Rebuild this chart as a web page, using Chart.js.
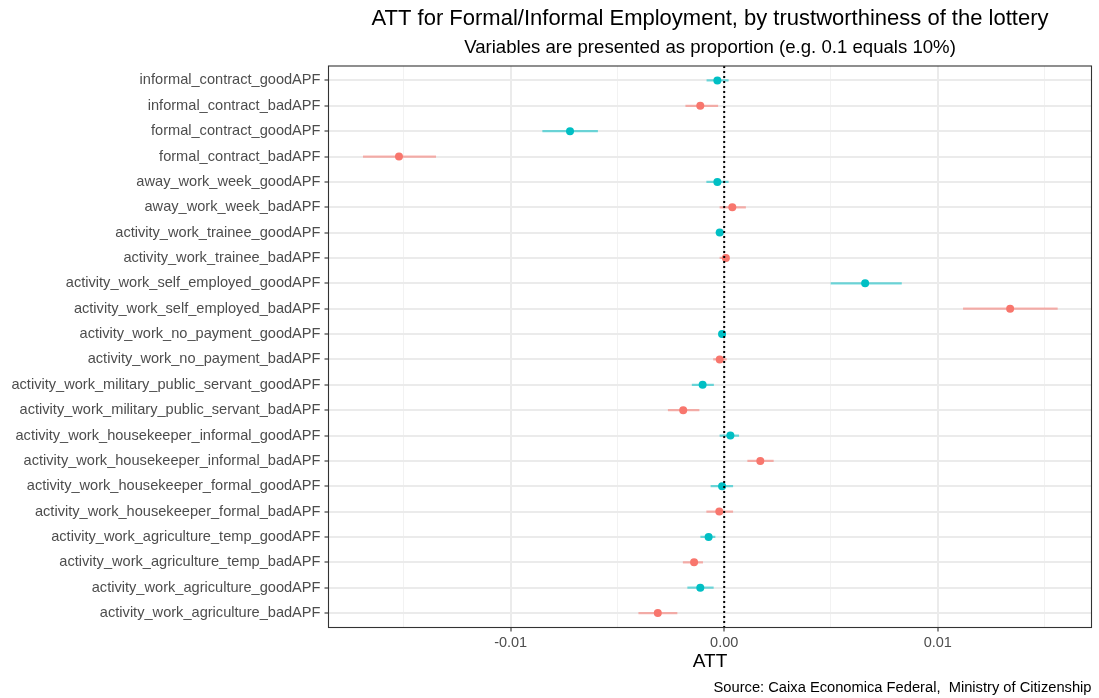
<!DOCTYPE html>
<html>
<head>
<meta charset="utf-8">
<title>ATT for Formal/Informal Employment</title>
<script src="https://cdn.jsdelivr.net/npm/chart.js@4/dist/chart.umd.min.js"></script>
<style>
  html, body { margin: 0; padding: 0; background: #ffffff; }
  #wrap { position: relative; width: 1099px; height: 698px; }
  canvas { display: block; }
</style>
</head>
<body>
<div id="wrap"><canvas id="chart" width="1099" height="698"></canvas></div>
<script>
// Outcome variables, listed top to bottom
const variables = [
  'informal_contract_goodAPF',
  'informal_contract_badAPF',
  'formal_contract_goodAPF',
  'formal_contract_badAPF',
  'away_work_week_goodAPF',
  'away_work_week_badAPF',
  'activity_work_trainee_goodAPF',
  'activity_work_trainee_badAPF',
  'activity_work_self_employed_goodAPF',
  'activity_work_self_employed_badAPF',
  'activity_work_no_payment_goodAPF',
  'activity_work_no_payment_badAPF',
  'activity_work_military_public_servant_goodAPF',
  'activity_work_military_public_servant_badAPF',
  'activity_work_housekeeper_informal_goodAPF',
  'activity_work_housekeeper_informal_badAPF',
  'activity_work_housekeeper_formal_goodAPF',
  'activity_work_housekeeper_formal_badAPF',
  'activity_work_agriculture_temp_goodAPF',
  'activity_work_agriculture_temp_badAPF',
  'activity_work_agriculture_goodAPF',
  'activity_work_agriculture_badAPF'
];

// Lottery trustworthiness group of each variable
const groups = [
  'good', 'bad', 'good', 'bad', 'good', 'bad', 'good', 'bad', 'good', 'bad', 'good',
  'bad', 'good', 'bad', 'good', 'bad', 'good', 'bad', 'good', 'bad', 'good', 'bad'
];

// Point estimates of the ATT
const att = [
  -0.00032, -0.00112, -0.00722, -0.01523, -0.00032, 0.00038, -0.00021, 0.00008,
  0.00660, 0.01339, -0.00010, -0.00021, -0.00101, -0.00192, 0.00029, 0.00169,
  -0.00010, -0.00023, -0.00073, -0.00141, -0.00112, -0.00311
];

// Confidence interval bounds
const ciLow = [
  -0.00081, -0.00180, -0.00850, -0.01690, -0.00082, -0.00020, -0.00038, -0.00020,
  0.00500, 0.01120, -0.00025, -0.00050, -0.00150, -0.00262, -0.00020, 0.00110,
  -0.00062, -0.00082, -0.00110, -0.00192, -0.00171, -0.00400
];
const ciHigh = [
  0.00019, -0.00030, -0.00593, -0.01351, 0.00019, 0.00100, -0.00004, 0.00020,
  0.00830, 0.01560, 0.00005, 0.00010, -0.00050, -0.00118, 0.00068, 0.00230,
  0.00040, 0.00040, -0.00043, -0.00101, -0.00051, -0.00221
];

// x axis ticks: labelled majors and unlabelled minors
const majorTicks = [-0.01, 0, 0.01];
const minorTicks = [-0.015, -0.005, 0.005, 0.015];
const tickLabels = ['-0.01', '0.00', '0.01'];
const zeroLine = 0;

const titleText = 'ATT for Formal/Informal Employment, by trustworthiness of the lottery';
const subtitleText = 'Variables are presented as proportion (e.g. 0.1 equals 10%)';
const captionText = 'Source: Caixa Economica Federal,  Ministry of Citizenship';
const axisTitle = 'ATT';

const pointColors = { good: '#00BFC4', bad: '#F8766D' };
const barColors = { good: 'rgba(0,191,196,0.55)', bad: 'rgba(248,118,109,0.55)' };

const FONT = '"Liberation Sans", Arial, Helvetica, sans-serif';
const GRID = '#EBEBEB';
const DARK = '#333333';

const pointData = att.map((v, i) => ({ x: v, y: i }));
const intervalData = ciLow.map((lo, i) => ({ x: [lo, ciHigh[i]], y: i }));

// Panel frame, dotted zero reference, titles and caption
const decorations = {
  id: 'decorations',
  afterDatasetsDraw(chart) {
    const { ctx, chartArea: a, scales } = chart;
    const x0 = scales.x.getPixelForValue(zeroLine);
    ctx.save();
    ctx.beginPath();
    ctx.rect(a.left, a.top, a.right - a.left, a.bottom - a.top);
    ctx.clip();
    ctx.strokeStyle = '#000000';
    ctx.lineWidth = 2;
    ctx.setLineDash([2, 3]);
    ctx.beginPath();
    ctx.moveTo(x0, a.top);
    ctx.lineTo(x0, a.bottom);
    ctx.stroke();
    ctx.restore();

    ctx.save();
    ctx.strokeStyle = DARK;
    ctx.lineWidth = 1.1;
    ctx.strokeRect(a.left, a.top, a.right - a.left, a.bottom - a.top);
    ctx.restore();
  },
  afterDraw(chart) {
    const { ctx, chartArea: a } = chart;
    const cx = (a.left + a.right) / 2;
    ctx.save();
    ctx.fillStyle = '#000000';
    ctx.textAlign = 'center';
    ctx.textBaseline = 'middle';
    ctx.font = '22px ' + FONT;
    ctx.fillText(titleText, cx, 19);
    ctx.font = '18.6px ' + FONT;
    ctx.fillText(subtitleText, cx, 47.5);
    ctx.textAlign = 'right';
    ctx.font = '14.7px ' + FONT;
    ctx.fillText(captionText, a.right, 688);
    ctx.restore();
  }
};

new Chart(document.getElementById('chart'), {
  type: 'bar',
  data: {
    datasets: [
      {
        type: 'line',
        data: pointData,
        showLine: false,
        pointRadius: 4,
        pointHoverRadius: 4,
        pointBorderWidth: 0,
        pointBackgroundColor: groups.map(g => pointColors[g]),
        pointBorderColor: groups.map(g => pointColors[g]),
        order: 0
      },
      {
        type: 'bar',
        data: intervalData,
        barThickness: 1.6,
        borderWidth: 0,
        backgroundColor: groups.map(g => barColors[g]),
        order: 1
      }
    ]
  },
  options: {
    indexAxis: 'y',
    responsive: false,
    animation: false,
    events: [],
    layout: { padding: { top: 66, right: 7.5, bottom: 25, left: 0 } },
    plugins: {
      legend: { display: false },
      tooltip: { enabled: false },
      title: { display: false }
    },
    scales: {
      x: {
        type: 'linear',
        min: -0.01853,
        max: 0.01720,
        afterFit(scale) { scale.height = 45.5; },
        afterBuildTicks(scale) {
          scale.ticks = minorTicks.concat(majorTicks).sort((a, b) => a - b).map(v => ({ value: v }));
        },
        grid: {
          color: ctx => majorTicks.includes(ctx.tick && ctx.tick.value) ? GRID : '#F2F2F2',
          lineWidth: ctx => majorTicks.includes(ctx.tick && ctx.tick.value) ? 2 : 1,
          tickColor: ctx => majorTicks.includes(ctx.tick && ctx.tick.value) ? DARK : 'rgba(0,0,0,0)',
          tickLength: 4,
          tickWidth: 1.1
        },
        border: { display: false },
        ticks: {
          autoSkip: false,
          maxRotation: 0,
          padding: 3,
          color: '#4D4D4D',
          font: { family: FONT, size: 14.5 },
          callback(value) {
            const k = majorTicks.indexOf(value);
            return k >= 0 ? tickLabels[k] : '';
          }
        },
        title: {
          display: true,
          text: axisTitle,
          color: '#000000',
          font: { family: FONT, size: 19 },
          padding: { top: 0, bottom: 0 }
        }
      },
      y: {
        type: 'linear',
        reverse: true,
        offset: false,
        min: -0.57,
        max: variables.length - 1 + 0.57,
        afterFit(scale) { scale.width = 328.5; },
        afterBuildTicks(scale) {
          scale.ticks = variables.map((_, i) => ({ value: i }));
        },
        grid: {
          offset: false,
          color: GRID,
          lineWidth: 2,
          tickColor: DARK,
          tickLength: 4,
          tickWidth: 1.1
        },
        border: { display: false },
        ticks: {
          autoSkip: false,
          padding: 4,
          color: '#4D4D4D',
          font: { family: FONT, size: 14.6 },
          callback(value) { return variables[value]; }
        }
      }
    }
  },
  plugins: [decorations]
});
</script>
</body>
</html>
